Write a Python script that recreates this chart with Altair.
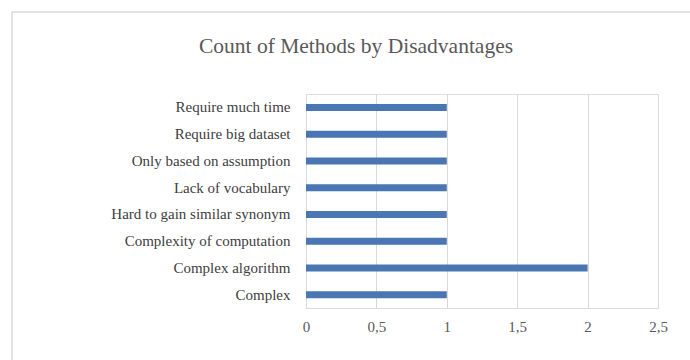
import altair as alt
import pandas as pd

categories = ["Require much time", "Require big dataset", "Only based on assumption",
              "Lack of vocabulary", "Hard to gain similar synonym", "Complexity of computation",
              "Complex algorithm", "Complex"]
counts = [1, 1, 1, 1, 1, 1, 2, 1]
x_ticks = [0, 0.5, 1, 1.5, 2, 2.5]
title_text = ["Count of Methods  by Disadvantages"]

df = pd.DataFrame({"cat": categories, "count": counts})

W, H = 352, 214
LEFT, TOP = 306, 94
FONT = "Liberation Serif, Times New Roman, serif"

bars = alt.Chart(df).mark_bar(color="#4a76b4", height=7).encode(
    y=alt.Y("cat:N", sort=categories, title=None,
            axis=alt.Axis(domain=False, ticks=False, labelPadding=16, labelFontSize=15,
                          labelFont=FONT, labelColor="#404040", labelLimit=300)),
    x=alt.X("count:Q", title=None, scale=alt.Scale(domain=[0, 2.5], nice=False),
            axis=alt.Axis(values=x_ticks, domain=False, ticks=False, grid=True,
                          gridColor="#d9d9d9", labelPadding=11, labelFontSize=15,
                          labelFlush=False, labelFont=FONT, labelColor="#595959",
                          labelExpr="replace(format(datum.value, ''), '.', ',')")),
)

border = alt.Chart(pd.DataFrame({"a": [0]})).mark_rect(
    fill=None, stroke="#d9d9d9", strokeWidth=1.5
).encode(
    x=alt.value(12 - LEFT), x2=alt.value(700 - LEFT),
    y=alt.value(12 - TOP), y2=alt.value(370 - TOP),
)

title = alt.Chart(pd.DataFrame({"t": title_text})).mark_text(
    font=FONT, fontSize=21.5, color="#595959", align="center", baseline="middle"
).encode(
    text="t:N", x=alt.value(356 - LEFT), y=alt.value(47 - TOP),
)

chart = alt.layer(border, title, bars).properties(
    width=W, height=H,
    autosize=alt.AutoSizeParams(type="none"),
    padding={"left": LEFT, "top": TOP, "right": 690 - LEFT - W, "bottom": 360 - TOP - H},
).configure_view(stroke=None).configure(background="white")

chart.save("out.html", embed_options={"renderer": "svg", "actions": False})
